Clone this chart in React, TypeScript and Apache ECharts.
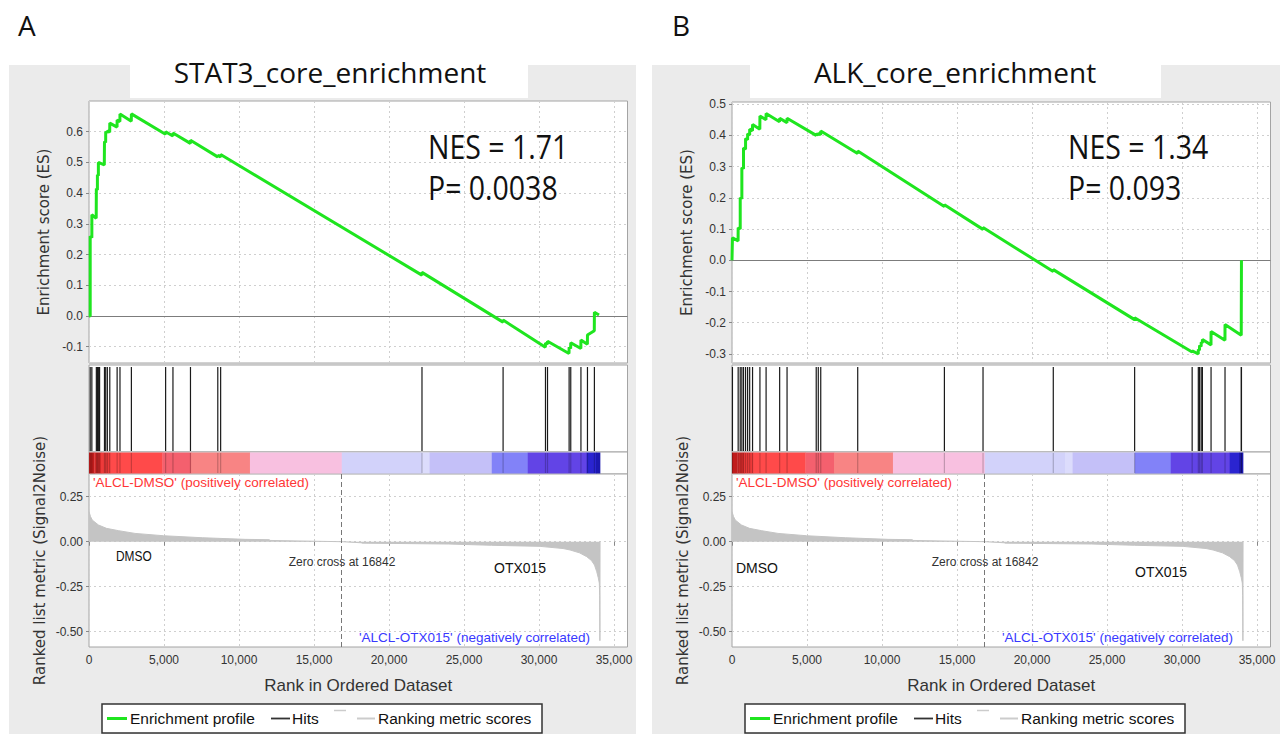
import React, { useEffect, useRef } from "react";
import * as echarts from "echarts";

// ---------- data ----------
const xTicks = [0, 5000, 10000, 15000, 20000, 25000, 30000, 35000];
const esTicksA = [-0.1, 0, 0.1, 0.2, 0.3, 0.4, 0.5, 0.6];
const esTicksB = [-0.3, -0.2, -0.1, 0, 0.1, 0.2, 0.3, 0.4, 0.5];
const rankTicks = [-0.5, -0.25, 0, 0.25];

const esA: [number, number][] = [
  [0, 0], [80, 0], [80, 0.26], [190, 0.255], [190, 0.33], [480, 0.318], [490, 0.415], [560, 0.41],
  [560, 0.46], [625, 0.457], [625, 0.5], [1020, 0.492], [1032, 0.568], [1110, 0.565], [1114, 0.6],
  [1220, 0.597], [1223, 0.603], [1380, 0.598], [1386, 0.628], [1870, 0.615], [1875, 0.638],
  [2060, 0.633], [2065, 0.658], [2820, 0.634], [2826, 0.658], [5100, 0.592], [5108, 0.6],
  [5590, 0.586], [5597, 0.596], [6760, 0.562], [6765, 0.572], [8580, 0.518], [8586, 0.523],
  [8770, 0.518], [8776, 0.526], [22190, 0.133], [22199, 0.142], [27600, -0.02], [27606, -0.013],
  [30425, -0.102], [30432, -0.088], [30560, -0.092], [30568, -0.082], [32000, -0.122],
  [32008, -0.102], [32110, -0.106], [32117, -0.087], [32790, -0.106], [32796, -0.078],
  [33225, -0.092], [33231, -0.062], [33686, -0.048], [33693, 0.012], [34000, 0.003],
];

const esB: [number, number][] = [
  [0, 0], [30, 0], [30, 0.072], [405, 0.062], [411, 0.104], [548, 0.1], [548, 0.2], [657, 0.197],
  [657, 0.296], [767, 0.293], [767, 0.36], [904, 0.356], [904, 0.39], [1041, 0.386], [1041, 0.405],
  [1178, 0.401], [1178, 0.42], [1365, 0.415], [1370, 0.435], [1855, 0.42], [1862, 0.462],
  [2265, 0.45], [2273, 0.47], [3170, 0.444], [3177, 0.455], [3665, 0.441], [3670, 0.455],
  [5610, 0.4], [5615, 0.405], [5748, 0.401], [5752, 0.407], [5912, 0.402], [5916, 0.414],
  [8376, 0.342], [8381, 0.35], [14155, 0.172], [14160, 0.178], [16730, 0.099], [16735, 0.105],
  [21415, -0.036], [21419, -0.03], [26838, -0.19], [26842, -0.184], [30672, -0.294],
  [30677, -0.29], [31084, -0.3], [31088, -0.286], [31166, -0.288], [31170, -0.273],
  [31276, -0.276], [31280, -0.263], [31357, -0.265], [31361, -0.254], [31933, -0.271],
  [31937, -0.228], [32864, -0.256], [32868, -0.206], [33950, -0.24], [33952, -0.173],
  [33958, -0.092], [33964, 0.0],
];

const hitsA = [
  80, 190, 490, 560, 625, 706, 1032, 1114, 1223, 1386, 1875, 2065, 2826, 5108, 5597, 6765, 8586,
  8776, 22199, 27606, 30432, 30568, 32008, 32117, 32796, 33231, 33693,
];
const hitsB = [
  30, 411, 548, 657, 767, 904, 1041, 1178, 1370, 1862, 2273, 3177, 3670, 5615, 5752, 5916, 8381,
  14160, 16735, 21419, 26842, 30677, 31088, 31170, 31280, 31361, 31937, 32868, 33952, 33964,
];

const metric: [number, number][] = [
  [0, 0.167], [100, 0.14], [217, 0.12], [625, 0.093], [1168, 0.074], [1983, 0.061], [3070, 0.046],
  [4972, 0.033], [7550, 0.022], [7553, 0.0185], [10406, 0.013], [12030, 0.011], [12036, 0.007],
  [14000, 0.004], [16842, 0], [18150, -0.006], [18200, -0.008], [23990, -0.013], [24000, -0.016],
  [26840, -0.02], [30070, -0.026], [31600, -0.038], [32070, -0.046], [32700, -0.062],
  [33180, -0.083], [33500, -0.105], [33700, -0.13], [33850, -0.167], [33950, -0.2],
  [34020, -0.23], [34045, -0.3], [34060, -0.55], [34070, 0],
];

const barStarts = [0, 350, 800, 1400, 4900, 6800, 10730, 16850, 22200, 22700, 26850, 29250, 33180, 33800];
const barEnds = [350, 800, 1400, 4900, 6800, 10730, 16850, 22200, 22700, 26850, 29250, 33180, 33800, 34070];
const barColors = [
  "#c01c1c", "#dc2c2c", "#ee3a3a", "#ff4a4a", "#f4606e", "#f88484", "#f8c0e0",
  "#d2d2fa", "#dcdcfc", "#c4c0f8", "#8282f8", "#6244e6", "#2a24d0", "#1c18b0",
];

const zeroCross = 16842;

// ---------- styles ----------
const XMAX = 35900;
const FONT_AX = "'Liberation Sans', Arial, sans-serif";
const FONT_V = "'DejaVu Sans', sans-serif";
const FONT_T = "'Open Sans', 'Noto Sans', sans-serif";
const BORDER = "#a4a4a4";
const GRIDLINE = { show: true, lineStyle: { color: "#cfcfcf", type: [2, 3], width: 1 } };
const GREEN = "#1fe51f";
const METRIC_GRAY = "#c4c4c4";

const fmtX = (v: number) => v.toLocaleString("en-US");

type Panel = {
  left: number;
  es: [number, number][];
  hits: number[];
  esMin: number;
  esMax: number;
  esTop: number;
  esTicks: number[];
  letter: string;
  letterX: number;
  title: string;
  titleBox: [number, number];
  titleX: number;
  nes: string;
  p: string;
  nesX: number;
  dmso: { x: number; y: number; size: number; sx: number };
  otx: { x: number; y: number };
};

const panels: Panel[] = [
  {
    left: 89, es: esA, hits: hitsA, esMin: -0.153, esMax: 0.7, esTop: 101, esTicks: esTicksA,
    letter: "A", letterX: 18, title: "STAT3_core_enrichment", titleBox: [130, 398], titleX: 330,
    nes: "NES = 1.71", p: "P= 0.0038", nesX: 428,
    dmso: { x: 116, y: 556, size: 14, sx: 0.85 }, otx: { x: 494, y: 568 },
  },
  {
    left: 732, es: esB, hits: hitsB, esMin: -0.329, esMax: 0.507, esTop: 102, esTicks: esTicksB,
    letter: "B", letterX: 672, title: "ALK_core_enrichment", titleBox: [750, 411], titleX: 955,
    nes: "NES = 1.34", p: "P= 0.093", nesX: 1068,
    dmso: { x: 736, y: 568, size: 14, sx: 1 }, otx: { x: 1135, y: 572 },
  },
];

function buildOption() {
  const grid: any[] = [];
  const xAxis: any[] = [];
  const yAxis: any[] = [];
  const series: any[] = [];
  const graphic: any[] = [];
  const W = XMAX * 0.015;

  panels.forEach((P, pi) => {
    const L = P.left;
    const off = L - 89;
    const g0 = grid.length;
    const gBase = {
      left: L, width: W, show: true, backgroundColor: "#ffffff", borderColor: BORDER,
      borderWidth: 1, containLabel: false, outerBoundsMode: "none",
    };
    grid.push({ ...gBase, top: P.esTop, height: 363 - P.esTop });
    grid.push({ ...gBase, top: 365, height: 87 });
    grid.push({ ...gBase, top: 452, height: 22 });
    grid.push({ ...gBase, top: 474, height: 173 });

    const xBase = {
      type: "value", min: 0, max: XMAX, axisLine: { show: false },
      axisTick: { show: false, customValues: xTicks },
      axisLabel: { show: false, customValues: xTicks },
      splitLine: { show: false },
    };
    xAxis.push({ ...xBase, gridIndex: g0, splitLine: GRIDLINE });
    xAxis.push({ ...xBase, gridIndex: g0 + 1 });
    xAxis.push({ ...xBase, gridIndex: g0 + 2 });
    xAxis.push({
      ...xBase, gridIndex: g0 + 3, splitLine: GRIDLINE,
      axisTick: { show: true, length: 4, lineStyle: { color: "#888" }, customValues: xTicks },
      axisLabel: {
        show: true, customValues: xTicks, formatter: fmtX, margin: 7,
        fontFamily: FONT_AX, fontSize: 12, color: "#333",
      },
      name: "Rank in Ordered Dataset", nameLocation: "middle", nameGap: 30,
      nameTextStyle: { fontFamily: FONT_AX, fontSize: 17, color: "#333" },
    });

    yAxis.push({
      type: "value", gridIndex: g0, min: P.esMin, max: P.esMax,
      axisLine: { show: false },
      axisTick: { show: true, length: 3, lineStyle: { color: "#888" }, customValues: P.esTicks },
      axisLabel: {
        customValues: P.esTicks, formatter: (v: number) => v.toFixed(1), margin: 6,
        fontFamily: FONT_AX, fontSize: 12, color: "#333",
      },
      splitLine: GRIDLINE,
      name: "Enrichment score (ES)", nameLocation: "middle", nameGap: 38,
      nameTextStyle: { fontFamily: FONT_V, fontSize: 15, color: "#333" },
    });
    yAxis.push({ type: "value", gridIndex: g0 + 1, min: 0, max: 1, show: false });
    yAxis.push({ type: "value", gridIndex: g0 + 2, min: 0, max: 1, show: false });
    yAxis.push({
      type: "value", gridIndex: g0 + 3, min: -0.585, max: 0.376,
      axisLine: { show: false },
      axisTick: { show: true, length: 3, lineStyle: { color: "#888" }, customValues: rankTicks },
      axisLabel: {
        customValues: rankTicks, formatter: (v: number) => v.toFixed(2), margin: 6,
        fontFamily: FONT_AX, fontSize: 12, color: "#333",
      },
      splitLine: GRIDLINE,
      name: "Ranked list metric (Signal2Noise)", nameLocation: "middle", nameGap: 42,
      nameTextStyle: { fontFamily: FONT_V, fontSize: 15, color: "#333" },
    });

    // ES curve
    series.push({
      type: "line", xAxisIndex: g0, yAxisIndex: g0, data: P.es, symbol: "none", z: 5,
      lineStyle: { color: GREEN, width: 3 },
      markLine: {
        silent: true, symbol: "none", label: { show: false },
        lineStyle: { color: "#7c7c7c", type: "solid", width: 1 },
        data: [{ yAxis: 0 }],
      },
    });
    // hits
    series.push({
      type: "custom", xAxisIndex: g0 + 1, yAxisIndex: g0 + 1,
      data: P.hits.map((h) => [h, 0]),
      renderItem: (params: any, api: any) => {
        const x = api.coord([api.value(0), 0])[0];
        const cs = params.coordSys;
        return {
          type: "line",
          shape: { x1: x, y1: cs.y + 2, x2: x, y2: cs.y + cs.height - 1 },
          style: { stroke: "#1a1a1a", lineWidth: 1.2 },
        };
      },
    });
    // colour bar
    series.push({
      type: "custom", xAxisIndex: g0 + 2, yAxisIndex: g0 + 2,
      data: barStarts.map((s, i) => [s, barEnds[i]]),
      renderItem: (params: any, api: any) => {
        const x1 = api.coord([api.value(0), 0])[0];
        const x2 = api.coord([api.value(1), 0])[0];
        const cs = params.coordSys;
        return {
          type: "rect",
          shape: { x: x1, y: cs.y + 0.5, width: x2 - x1 + 0.3, height: cs.height - 1 },
          style: { fill: barColors[params.dataIndex] },
        };
      },
    });
    // hits showing through the colour bar
    series.push({
      type: "custom", xAxisIndex: g0 + 2, yAxisIndex: g0 + 2, z: 3,
      data: P.hits.map((h) => [h, 0]),
      renderItem: (params: any, api: any) => {
        const x = api.coord([api.value(0), 0])[0];
        const cs = params.coordSys;
        return {
          type: "line",
          shape: { x1: x, y1: cs.y + 1, x2: x, y2: cs.y + cs.height - 1 },
          style: { stroke: "rgba(0,0,0,0.22)", lineWidth: 1.2 },
        };
      },
    });
    // ranked list metric
    series.push({
      type: "line", xAxisIndex: g0 + 3, yAxisIndex: g0 + 3, data: metric, symbol: "none",
      lineStyle: { color: METRIC_GRAY, width: 1 },
      areaStyle: { color: METRIC_GRAY, opacity: 1 },
      markLine: {
        silent: true, symbol: "none", label: { show: false },
        lineStyle: { color: "#777", type: [5, 3], width: 1 },
        data: [{ xAxis: zeroCross }],
      },
    });

    // ---------- graphics ----------
    graphic.push({
      type: "rect", z: -100, shape: { x: 9 + off, y: 65, width: pi === 0 ? 627 : 628, height: 669 },
      style: { fill: "#ebebeb" },
    });
    graphic.push({
      type: "rect", z: -50, shape: { x: P.titleBox[0], y: 65, width: P.titleBox[1], height: 33 },
      style: { fill: "#ffffff" },
    });
    graphic.push({
      type: "text", z: 100, x: P.letterX, y: 25,
      style: { text: P.letter, font: `28px ${FONT_T}`, fill: "#111", textAlign: "left", textVerticalAlign: "middle" },
    });
    graphic.push({
      type: "text", z: 100, x: P.titleX, y: 72,
      style: { text: P.title, font: `28px ${FONT_T}`, fill: "#111", textAlign: "center", textVerticalAlign: "middle" },
    });
    graphic.push({
      type: "text", z: 100, x: P.nesX, y: 147, scaleX: 0.89,
      style: { text: P.nes, font: `32px ${FONT_T}`, fill: "#111", textAlign: "left", textVerticalAlign: "middle" },
    });
    graphic.push({
      type: "text", z: 100, x: P.nesX, y: 188, scaleX: 0.89,
      style: { text: P.p, font: `32px ${FONT_T}`, fill: "#111", textAlign: "left", textVerticalAlign: "middle" },
    });
    // annotations in the ranked list plot
    graphic.push({
      type: "text", z: 100, x: 93 + off, y: 482,
      style: { text: "'ALCL-DMSO' (positively correlated)", font: `13.5px ${FONT_AX}`, fill: "#ff3636", textAlign: "left", textVerticalAlign: "middle" },
    });
    graphic.push({
      type: "text", z: 100, x: 590 + off, y: 637,
      style: { text: "'ALCL-OTX015' (negatively correlated)", font: `13.5px ${FONT_AX}`, fill: "#3838ff", textAlign: "right", textVerticalAlign: "middle" },
    });
    graphic.push({
      type: "text", z: 100, x: P.dmso.x, y: P.dmso.y, scaleX: P.dmso.sx,
      style: { text: "DMSO", font: `${P.dmso.size}px ${FONT_AX}`, fill: "#111", textAlign: "left", textVerticalAlign: "middle" },
    });
    graphic.push({
      type: "text", z: 100, x: 342 + off, y: 562,
      style: { text: "Zero cross at 16842", font: `12px ${FONT_AX}`, fill: "#333", textAlign: "center", textVerticalAlign: "middle" },
    });
    graphic.push({
      type: "text", z: 100, x: P.otx.x, y: P.otx.y,
      style: { text: "OTX015", font: `14px ${FONT_AX}`, fill: "#111", textAlign: "left", textVerticalAlign: "middle" },
    });
    // legend
    const ly = 718.5;
    graphic.push({
      type: "rect", z: 50, shape: { x: 102 + off, y: 704, width: 440, height: 29 },
      style: { fill: "#ffffff", stroke: "#333", lineWidth: 1.5 },
    });
    graphic.push({ type: "line", z: 60, shape: { x1: 107 + off, y1: ly, x2: 127 + off, y2: ly }, style: { stroke: GREEN, lineWidth: 3 } });
    graphic.push({
      type: "text", z: 60, x: 130 + off, y: ly,
      style: { text: "Enrichment profile", font: `15.5px ${FONT_AX}`, fill: "#111", textAlign: "left", textVerticalAlign: "middle" },
    });
    graphic.push({ type: "line", z: 60, shape: { x1: 271 + off, y1: ly, x2: 290 + off, y2: ly }, style: { stroke: "#333", lineWidth: 1.8 } });
    graphic.push({
      type: "text", z: 60, x: 292 + off, y: ly,
      style: { text: "Hits", font: `15.5px ${FONT_AX}`, fill: "#111", textAlign: "left", textVerticalAlign: "middle" },
    });
    graphic.push({ type: "line", z: 60, shape: { x1: 334 + off, y1: 710.5, x2: 346 + off, y2: 710.5 }, style: { stroke: "#cccccc", lineWidth: 1.5 } });
    graphic.push({ type: "line", z: 60, shape: { x1: 357 + off, y1: ly, x2: 375 + off, y2: ly }, style: { stroke: "#cccccc", lineWidth: 2 } });
    graphic.push({
      type: "text", z: 60, x: 378 + off, y: ly,
      style: { text: "Ranking metric scores", font: `15.5px ${FONT_AX}`, fill: "#111", textAlign: "left", textVerticalAlign: "middle" },
    });
  });

  return { animation: false, backgroundColor: "#ffffff", grid, xAxis, yAxis, series, graphic };
}

export default function App() {
  const ref = useRef<HTMLDivElement>(null);
  useEffect(() => {
    if (!ref.current) return;
    const chart = echarts.init(ref.current, undefined, { renderer: "svg", width: 1284, height: 734 });
    chart.setOption(buildOption() as any);
    return () => chart.dispose();
  }, []);
  return (
    <div
      ref={ref}
      style={{ position: "fixed", left: 0, top: 0, width: 1284, height: 734, background: "#fff" }}
    />
  );
}
